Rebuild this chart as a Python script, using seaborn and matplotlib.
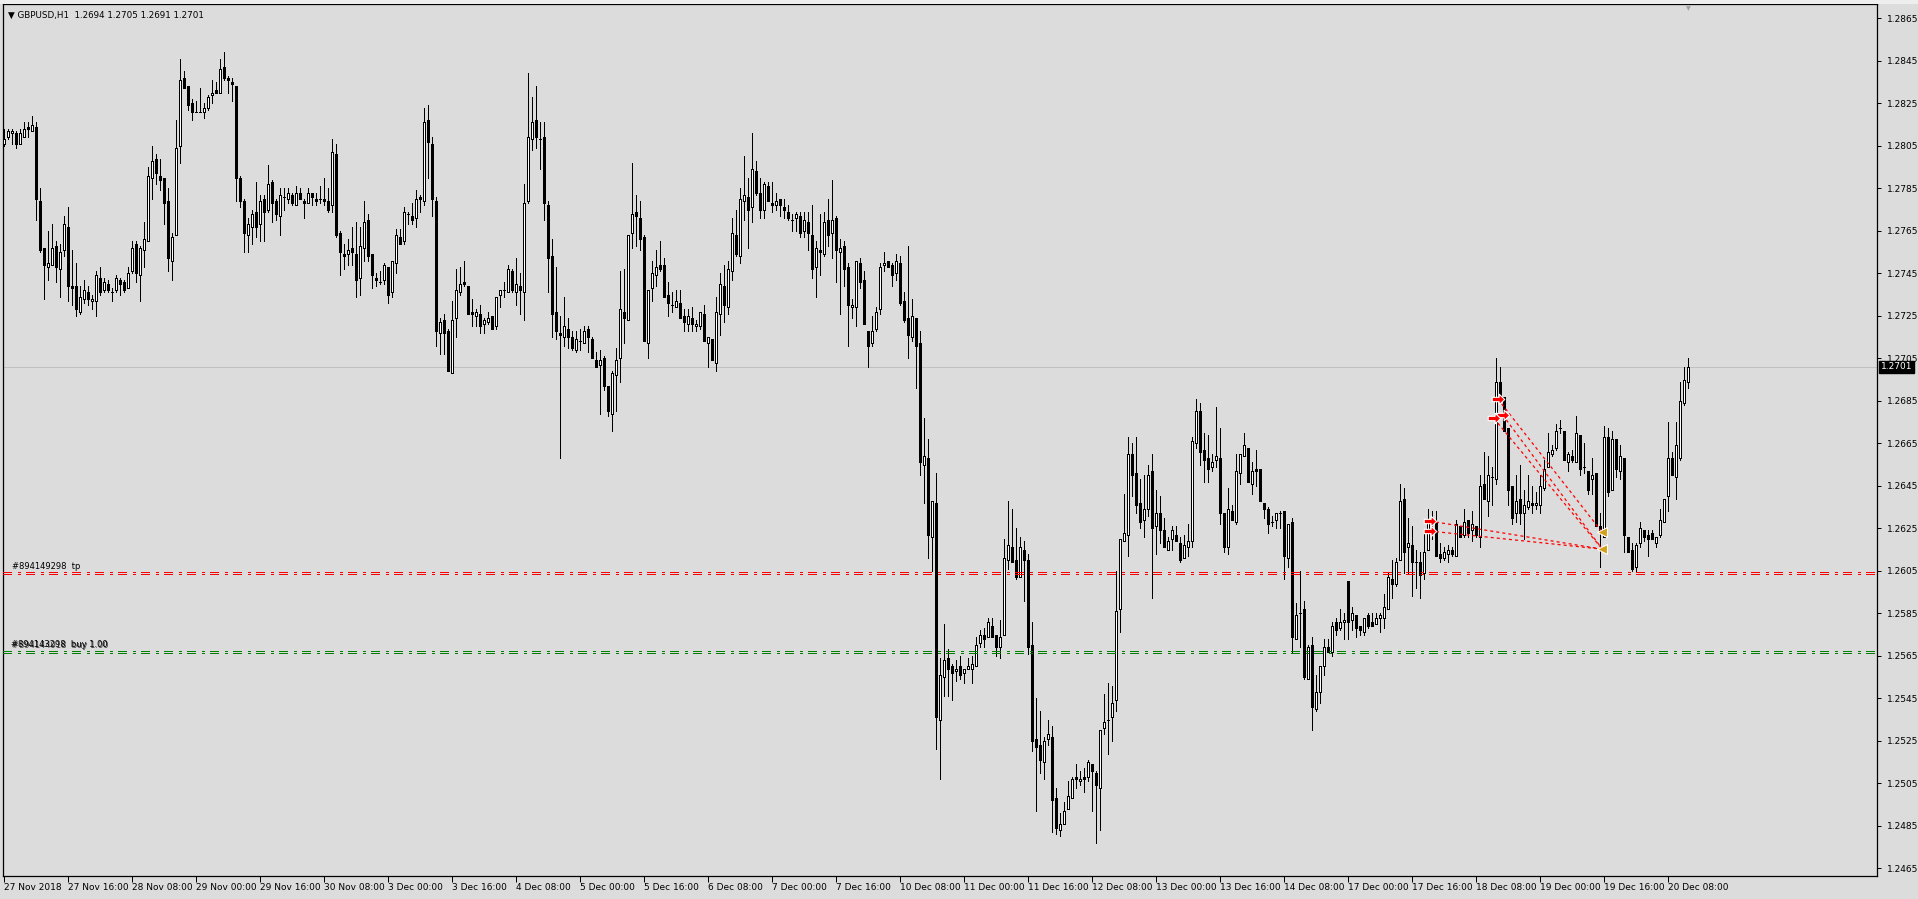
import numpy as np
import pandas as pd
import matplotlib
matplotlib.use("Agg")
import matplotlib.pyplot as plt
from matplotlib.path import Path
from matplotlib.patches import Rectangle
import matplotlib.transforms as mtransforms
import seaborn as sns

# GBPUSD H1, prices in pips above 1.2000 (806 -> 1.2806)
opens = [
    806, 809, 811, 811, 806, 809, 814, 812, 814, 779,
    757, 748, 749, 758, 747, 756, 767, 739, 739, 727,
    733, 736, 732, 732, 743, 737, 740, 736, 737, 742,
    741, 738, 746, 759, 744, 756, 760, 790, 799, 791,
    790, 779, 751, 763, 805, 837, 833, 825, 821, 821,
    821, 823, 829, 831, 830, 842, 837, 835, 833, 790,
    779, 763, 767, 774, 768, 780, 775, 788, 779, 772,
    781, 780, 782, 777, 783, 779, 778, 783, 780, 780,
    780, 779, 777, 801, 764, 754, 754, 757, 754, 743,
    757, 770, 754, 743, 741, 742, 748, 736, 750, 762,
    760, 773, 772, 771, 781, 779, 817, 806, 779, 717,
    723, 718, 698, 724, 736, 741, 739, 727, 725, 726,
    721, 722, 725, 720, 735, 737, 736, 746, 736, 739,
    736, 779, 808, 817, 808, 809, 777, 753, 727, 717,
    715, 719, 715, 709, 713, 712, 719, 714, 704, 702,
    705, 692, 679, 697, 705, 727, 723, 764, 774, 771,
    762, 712, 738, 744, 749, 749, 735, 730, 729, 731,
    725, 721, 724, 720, 720, 726, 712, 714, 703, 726,
    739, 729, 746, 763, 753, 779, 781, 776, 793, 783,
    775, 786, 778, 777, 780, 776, 774, 770, 771, 772,
    765, 769, 763, 748, 756, 754, 770, 764, 771, 755,
    758, 748, 729, 729, 750, 742, 718, 712, 719, 728,
    749, 751, 749, 745, 750, 732, 724, 715, 724, 712,
    655, 658, 621, 637, 535, 555, 564, 560, 558, 560,
    557, 559, 559, 560, 571, 575, 574, 579, 575, 569,
    575, 610, 616, 610, 602, 615, 610, 570, 526, 523,
    515, 526, 527, 498, 483, 486, 493, 498, 508, 506,
    508, 508, 514, 510, 503, 531, 535, 536, 544, 587,
    619, 622, 660, 651, 637, 629, 634, 652, 626, 632,
    624, 615, 620, 622, 618, 611, 616, 619, 665, 680,
    662, 658, 654, 657, 658, 632, 616, 633, 628, 651,
    659, 663, 646, 653, 653, 637, 634, 628, 629, 632,
    633, 611, 628, 573, 585, 587, 554, 570, 540, 548,
    560, 569, 567, 581, 578, 581, 600, 582, 584, 579,
    576, 584, 581, 580, 583, 583, 587, 601, 599, 610,
    639, 616, 617, 609, 609, 604, 615, 629, 628, 613,
    611, 613, 615, 612, 626, 622, 629, 624, 626, 621,
    646, 638, 649, 648, 694, 687, 672, 645, 632, 639,
    632, 635, 637, 636, 636, 644, 654, 660, 663, 672,
    671, 656, 659, 656, 669, 654, 652, 648, 651, 626,
    621, 668, 643, 667, 652, 658, 621, 615, 607, 618,
    624, 622, 623, 618, 622, 628, 640, 658, 649, 658,
    684, 694,
]
highs = [
    813, 813, 813, 812, 813, 816, 816, 819, 816, 785,
    757, 765, 768, 760, 759, 772, 776, 756, 750, 739,
    742, 739, 735, 746, 748, 743, 742, 738, 744, 743,
    742, 748, 760, 760, 758, 769, 795, 805, 801, 799,
    790, 785, 764, 817, 846, 840, 833, 827, 826, 832,
    825, 829, 836, 835, 846, 849, 838, 837, 833, 791,
    780, 771, 775, 788, 782, 782, 796, 789, 780, 785,
    785, 785, 783, 786, 785, 780, 785, 783, 783, 786,
    790, 785, 808, 806, 765, 759, 761, 767, 769, 767,
    779, 773, 754, 745, 746, 750, 748, 751, 766, 766,
    776, 774, 778, 784, 782, 823, 824, 809, 781, 724,
    726, 719, 732, 747, 748, 751, 739, 733, 728, 730,
    724, 727, 725, 734, 737, 741, 749, 747, 752, 745,
    787, 839, 828, 833, 816, 816, 779, 761, 748, 725,
    734, 724, 718, 718, 719, 720, 720, 715, 708, 709,
    706, 692, 699, 710, 746, 747, 763, 797, 782, 779,
    763, 737, 751, 756, 760, 752, 741, 736, 737, 737,
    728, 728, 729, 723, 727, 730, 715, 714, 734, 745,
    749, 751, 771, 775, 785, 800, 790, 811, 798, 790,
    788, 788, 788, 783, 780, 780, 777, 773, 774, 774,
    774, 774, 777, 760, 773, 774, 780, 789, 772, 761,
    760, 750, 733, 751, 752, 746, 718, 725, 729, 750,
    755, 751, 750, 754, 753, 736, 758, 733, 724, 718,
    677, 667, 638, 651, 564, 580, 568, 561, 563, 565,
    559, 564, 565, 574, 577, 578, 583, 583, 575, 582,
    620, 638, 634, 625, 621, 619, 613, 581, 545, 539,
    527, 535, 532, 503, 491, 496, 506, 508, 514, 511,
    512, 516, 514, 511, 530, 547, 552, 551, 605, 620,
    641, 668, 665, 668, 648, 650, 655, 660, 643, 640,
    630, 621, 626, 626, 621, 622, 627, 668, 686, 684,
    670, 669, 660, 682, 672, 632, 644, 636, 660, 660,
    670, 663, 656, 662, 653, 637, 635, 631, 632, 633,
    633, 627, 630, 590, 605, 591, 570, 574, 556, 560,
    573, 573, 581, 583, 587, 585, 600, 588, 584, 579,
    583, 585, 585, 585, 585, 594, 604, 610, 611, 646,
    644, 630, 626, 615, 614, 624, 634, 633, 633, 618,
    616, 617, 616, 629, 626, 634, 629, 633, 626, 650,
    661, 659, 654, 705, 701, 687, 672, 645, 650, 655,
    643, 650, 645, 642, 650, 657, 670, 664, 674, 676,
    671, 661, 662, 678, 669, 665, 652, 658, 651, 632,
    673, 672, 671, 667, 664, 658, 621, 618, 618, 628,
    624, 624, 624, 621, 634, 639, 675, 661, 675, 694,
    701, 705,
]
lows = [
    805, 808, 806, 804, 806, 809, 809, 812, 770, 755,
    733, 742, 749, 741, 734, 753, 732, 730, 725, 726,
    731, 730, 728, 725, 735, 736, 736, 732, 736, 735,
    736, 738, 745, 741, 732, 748, 760, 780, 787, 784,
    768, 746, 742, 763, 797, 832, 822, 817, 821, 821,
    818, 822, 825, 830, 830, 836, 830, 826, 779, 776,
    755, 755, 759, 762, 760, 760, 774, 769, 770, 763,
    775, 778, 777, 777, 780, 771, 778, 777, 777, 778,
    777, 774, 774, 762, 744, 747, 749, 749, 734, 735,
    751, 751, 738, 739, 740, 740, 731, 734, 745, 759,
    759, 768, 768, 767, 774, 777, 790, 772, 711, 707,
    707, 699, 698, 715, 735, 739, 726, 720, 720, 717,
    717, 721, 719, 719, 729, 734, 736, 736, 730, 726,
    723, 778, 803, 804, 794, 770, 736, 715, 714, 658,
    711, 710, 709, 708, 709, 712, 708, 705, 701, 679,
    690, 678, 671, 680, 694, 712, 723, 757, 758, 756,
    713, 705, 732, 739, 746, 734, 725, 727, 729, 724,
    718, 718, 718, 718, 719, 713, 701, 704, 699, 716,
    722, 726, 742, 753, 750, 770, 757, 769, 782, 771,
    771, 779, 774, 775, 772, 771, 770, 765, 765, 762,
    762, 756, 743, 734, 744, 753, 758, 752, 741, 726,
    739, 711, 724, 720, 738, 721, 701, 711, 718, 726,
    746, 748, 739, 742, 730, 722, 705, 713, 691, 650,
    637, 611, 605, 521, 507, 546, 546, 544, 553, 554,
    552, 559, 552, 560, 569, 569, 574, 574, 565, 564,
    575, 606, 609, 601, 602, 591, 566, 520, 492, 510,
    507, 523, 482, 481, 480, 486, 493, 498, 503, 504,
    501, 506, 492, 477, 483, 528, 519, 525, 539, 576,
    619, 612, 640, 632, 625, 621, 631, 592, 613, 618,
    616, 615, 615, 619, 609, 611, 612, 616, 663, 655,
    647, 647, 652, 654, 627, 614, 613, 629, 627, 646,
    659, 647, 641, 645, 638, 630, 623, 626, 625, 625,
    601, 607, 567, 573, 569, 554, 554, 530, 539, 543,
    556, 567, 565, 575, 577, 573, 573, 577, 574, 575,
    575, 578, 579, 580, 576, 578, 587, 592, 598, 610,
    604, 604, 593, 597, 592, 601, 615, 620, 612, 609,
    610, 609, 612, 612, 621, 621, 621, 619, 621, 616,
    639, 631, 636, 646, 685, 671, 636, 627, 628, 627,
    620, 634, 632, 634, 632, 643, 654, 659, 662, 670,
    657, 652, 656, 656, 650, 651, 641, 641, 626, 607,
    621, 640, 643, 649, 648, 614, 614, 605, 605, 616,
    619, 612, 620, 616, 621, 628, 633, 650, 639, 657,
    683, 691,
]
closes = [
    808, 812, 812, 806, 811, 813, 813, 815, 780, 756,
    749, 750, 757, 748, 755, 768, 739, 738, 728, 734,
    737, 733, 733, 744, 736, 741, 737, 736, 743, 740,
    737, 745, 757, 745, 757, 761, 791, 798, 792, 789,
    778, 752, 762, 804, 836, 832, 824, 821, 821, 821,
    823, 828, 830, 830, 841, 837, 836, 834, 790, 779,
    764, 768, 773, 767, 779, 774, 787, 778, 773, 782,
    781, 783, 778, 783, 780, 778, 783, 781, 779, 780,
    779, 775, 802, 763, 755, 753, 756, 755, 742, 758,
    769, 753, 744, 742, 741, 749, 735, 751, 763, 759,
    774, 773, 770, 780, 780, 816, 807, 780, 718, 722,
    717, 699, 723, 737, 740, 740, 726, 726, 727, 720,
    723, 724, 719, 734, 737, 737, 747, 737, 740, 737,
    778, 809, 816, 809, 808, 778, 752, 726, 718, 716,
    720, 715, 710, 714, 713, 718, 715, 705, 701, 704,
    692, 680, 698, 704, 728, 724, 763, 773, 772, 761,
    713, 737, 745, 748, 747, 734, 731, 730, 732, 724,
    722, 725, 721, 721, 727, 713, 715, 704, 727, 740,
    730, 747, 764, 754, 780, 782, 775, 794, 783, 775,
    787, 779, 777, 779, 777, 775, 771, 770, 773, 764,
    770, 764, 747, 757, 755, 769, 763, 770, 756, 757,
    747, 730, 730, 751, 741, 721, 711, 718, 727, 748,
    750, 748, 744, 751, 731, 723, 716, 725, 711, 656,
    659, 622, 638, 536, 556, 563, 559, 557, 559, 556,
    559, 560, 561, 570, 575, 573, 581, 574, 569, 574,
    611, 617, 609, 602, 616, 610, 569, 525, 522, 516,
    525, 528, 497, 484, 486, 492, 499, 507, 507, 507,
    507, 515, 511, 504, 530, 534, 535, 543, 586, 620,
    623, 660, 650, 636, 628, 634, 650, 625, 632, 624,
    616, 619, 624, 619, 610, 617, 619, 666, 680, 661,
    657, 653, 656, 659, 632, 616, 634, 629, 652, 660,
    664, 647, 652, 652, 638, 634, 627, 628, 632, 632,
    612, 627, 574, 584, 585, 555, 569, 541, 548, 560,
    569, 567, 579, 577, 581, 582, 581, 585, 578, 577,
    583, 579, 579, 583, 584, 588, 602, 599, 609, 638,
    614, 618, 609, 609, 603, 614, 629, 627, 612, 611,
    614, 615, 613, 627, 621, 628, 623, 627, 622, 645,
    639, 650, 649, 694, 686, 671, 643, 630, 638, 632,
    636, 638, 636, 637, 645, 653, 661, 662, 671, 672,
    657, 660, 657, 670, 653, 654, 643, 650, 626, 624,
    668, 642, 667, 653, 659, 622, 614, 606, 617, 625,
    621, 620, 620, 621, 629, 639, 658, 650, 664, 685,
    695, 701,
]

time_labels = ["27 Nov 2018", "27 Nov 16:00", "28 Nov 08:00", "29 Nov 00:00",
               "29 Nov 16:00", "30 Nov 08:00", "3 Dec 00:00", "3 Dec 16:00",
               "4 Dec 08:00", "5 Dec 00:00", "5 Dec 16:00", "6 Dec 08:00",
               "7 Dec 00:00", "7 Dec 16:00", "10 Dec 08:00", "11 Dec 00:00",
               "11 Dec 16:00", "12 Dec 08:00", "13 Dec 00:00", "13 Dec 16:00",
               "14 Dec 08:00", "17 Dec 00:00", "17 Dec 16:00", "18 Dec 08:00",
               "19 Dec 00:00", "19 Dec 16:00", "20 Dec 08:00"]
price_labels = ["1.2465", "1.2485", "1.2505", "1.2525", "1.2545", "1.2565",
                "1.2585", "1.2605", "1.2625", "1.2645", "1.2665", "1.2685",
                "1.2705", "1.2725", "1.2745", "1.2765", "1.2785", "1.2805",
                "1.2825", "1.2845", "1.2865"]

last_price = 1.2701
tp_levels = [1.26043, 1.26034]
buy_levels = [1.25673, 1.25661]

# trade arrows (bar index, price) and the exit they are joined to
entry_bar = [356.6, 356.6, 373.6, 374.8, 372.6]
entry_price = [1.26284, 1.26237, 1.26858, 1.26783, 1.26767]
exit_bar = [399.7, 399.7, 399.7, 399.7, 399.7]
exit_price = [1.26152, 1.26152, 1.26231, 1.26152, 1.26152]

title = "\u25bc GBPUSD,H1  1.2694 1.2705 1.2691 1.2701"

n = len(closes)
assert len(opens) == n and len(highs) == n and len(lows) == n, (len(opens), len(highs), len(lows), n)

df = pd.DataFrame({"bar": np.arange(n),
                   "open": 1.2 + np.array(opens) / 10000,
                   "high": 1.2 + np.array(highs) / 10000,
                   "low": 1.2 + np.array(lows) / 10000,
                   "close": 1.2 + np.array(closes) / 10000})
df["bull"] = df["close"] >= df["open"]

BG = "#DCDCDC"
W, H = 1918, 899
PX = 0.72  # one pixel in points at dpi 100
sns.set_style("white", {"axes.facecolor": BG, "figure.facecolor": BG,
                        "axes.edgecolor": "black"})
plt.rcParams["font.family"] = ["DejaVu Sans"]
plt.rcParams["lines.scale_dashes"] = False

fig = plt.figure(figsize=(W / 100, H / 100), dpi=100, facecolor=BG)
ax_l, ax_r, ax_t, ax_b = 3, 1877, 4, 876
ax = fig.add_axes([ax_l / W, 1 - ax_b / H, (ax_r - ax_l) / W, (ax_b - ax_t) / H])
ax.set_facecolor(BG)

# top strip (toolbar remains)
fig.patches.append(Rectangle((0, 1 - 3.5 / H), 1, 3.5 / H, transform=fig.transFigure,
                             facecolor="#EEEEEE", edgecolor="none", zorder=0))

# price line
ax.axhline(last_price, color="#C0C0C0", lw=PX, zorder=1)

# candles: 4 px per bar, body 3 px wide (1 px outline, 1 px fill)
ax.vlines(df["bar"], df["low"], df["high"], colors="black", linewidth=PX,
          antialiased=False, zorder=2)
body_lo = df[["open", "close"]].min(axis=1)
body_h = (df["close"] - df["open"]).abs()
ax.bar(df["bar"], body_h, bottom=body_lo, width=0.5,
       color=np.where(df["bull"], "white", "black"), edgecolor="black",
       linewidth=PX, antialiased=False, zorder=3)

# order levels
dashdot = (0, (6.3, 4.8, 1.9, 4.3))
for lv in tp_levels:
    ax.axhline(lv, color="#FF0000", lw=PX, linestyle=dashdot, antialiased=False, zorder=4)
for lv in buy_levels:
    ax.axhline(lv, color="#008000", lw=PX, linestyle=dashdot, antialiased=False, zorder=4)

# trade connection lines
trades = pd.DataFrame({
    "trade": list(range(len(entry_bar))) * 2,
    "bar": entry_bar + exit_bar,
    "price": entry_price + exit_price,
})
sns.lineplot(data=trades, x="bar", y="price", units="trade", estimator=None,
             color="#FF0000", lw=0.9, linestyle=(0, (2.2, 2.2)), ax=ax,
             legend=False, zorder=5, sort=False)

arrow = Path([(-1, -0.35), (0.1, -0.35), (0.1, -0.85), (1, 0), (0.1, 0.85),
              (0.1, 0.35), (-1, 0.35), (-1, -0.35)],
             [Path.MOVETO] + [Path.LINETO] * 6 + [Path.CLOSEPOLY])
ax.plot(entry_bar, entry_price, ls="none", marker=arrow, ms=9, mfc="#FF0000",
        mec="white", mew=0.8, zorder=6)
ax.plot(exit_bar[:1] + exit_bar[2:3], [exit_price[0], exit_price[2]], ls="none",
        marker="<", ms=6.5, mfc="#D4A017", mec="white", mew=0.8, zorder=6)

# axes limits: bar centres on pixel centres, 42.5 px per 20 pips
ax.set_xlim(-0.125, 468.375)
ax.set_ylim(1.24614, 1.28717)

for s in ax.spines.values():
    s.set_color("black")
    s.set_linewidth(0.9)

ax.yaxis.tick_right()
ax.set_yticks([float(p) for p in price_labels])
ax.set_yticklabels(price_labels)
ax.tick_params(axis="y", right=True, left=False, direction="out", length=3,
               width=PX, pad=4, labelsize=6.5, labelcolor="black", color="black")
ax.set_xticks(range(0, 16 * len(time_labels), 16))
ax.set_xticklabels(time_labels)
ax.tick_params(axis="x", bottom=True, direction="out", length=4, width=PX,
               pad=1, labelsize=6.5, labelcolor="black", color="black")
for lbl in ax.get_xticklabels():
    lbl.set_horizontalalignment("left")
ax.set_xlabel("")
ax.set_ylabel("")

# last price box on the price scale
trans = mtransforms.blended_transform_factory(ax.transAxes, ax.transData)
ax.text(1.0 + 4 / (ax_r - ax_l), last_price, "1.2701", transform=trans, ha="left",
        va="center", fontsize=6.5, color="white", clip_on=False, zorder=10,
        bbox=dict(facecolor="black", edgecolor="black", pad=1.2))

# texts drawn in pixel coordinates
def fx(px):
    return px / W

def fy(py):
    return 1 - py / H

fig.text(fx(8), fy(15), title, fontsize=6.3, va="center", ha="left", color="black")
fig.text(fx(12), fy(571), "#894149298  tp", fontsize=6, va="bottom", color="black")
fig.text(fx(12), fy(650), "#894144918  buy 1.00", fontsize=6, va="bottom", color="#404040")
fig.text(fx(11), fy(649), "#894143298  buy 1.00", fontsize=6, va="bottom", color="black")
fig.text(fx(1688), fy(9), "\u25bc", fontsize=4.5, va="center", ha="center", color="#A0A0A0")

fig.savefig("out.png", dpi=100, facecolor=BG)
